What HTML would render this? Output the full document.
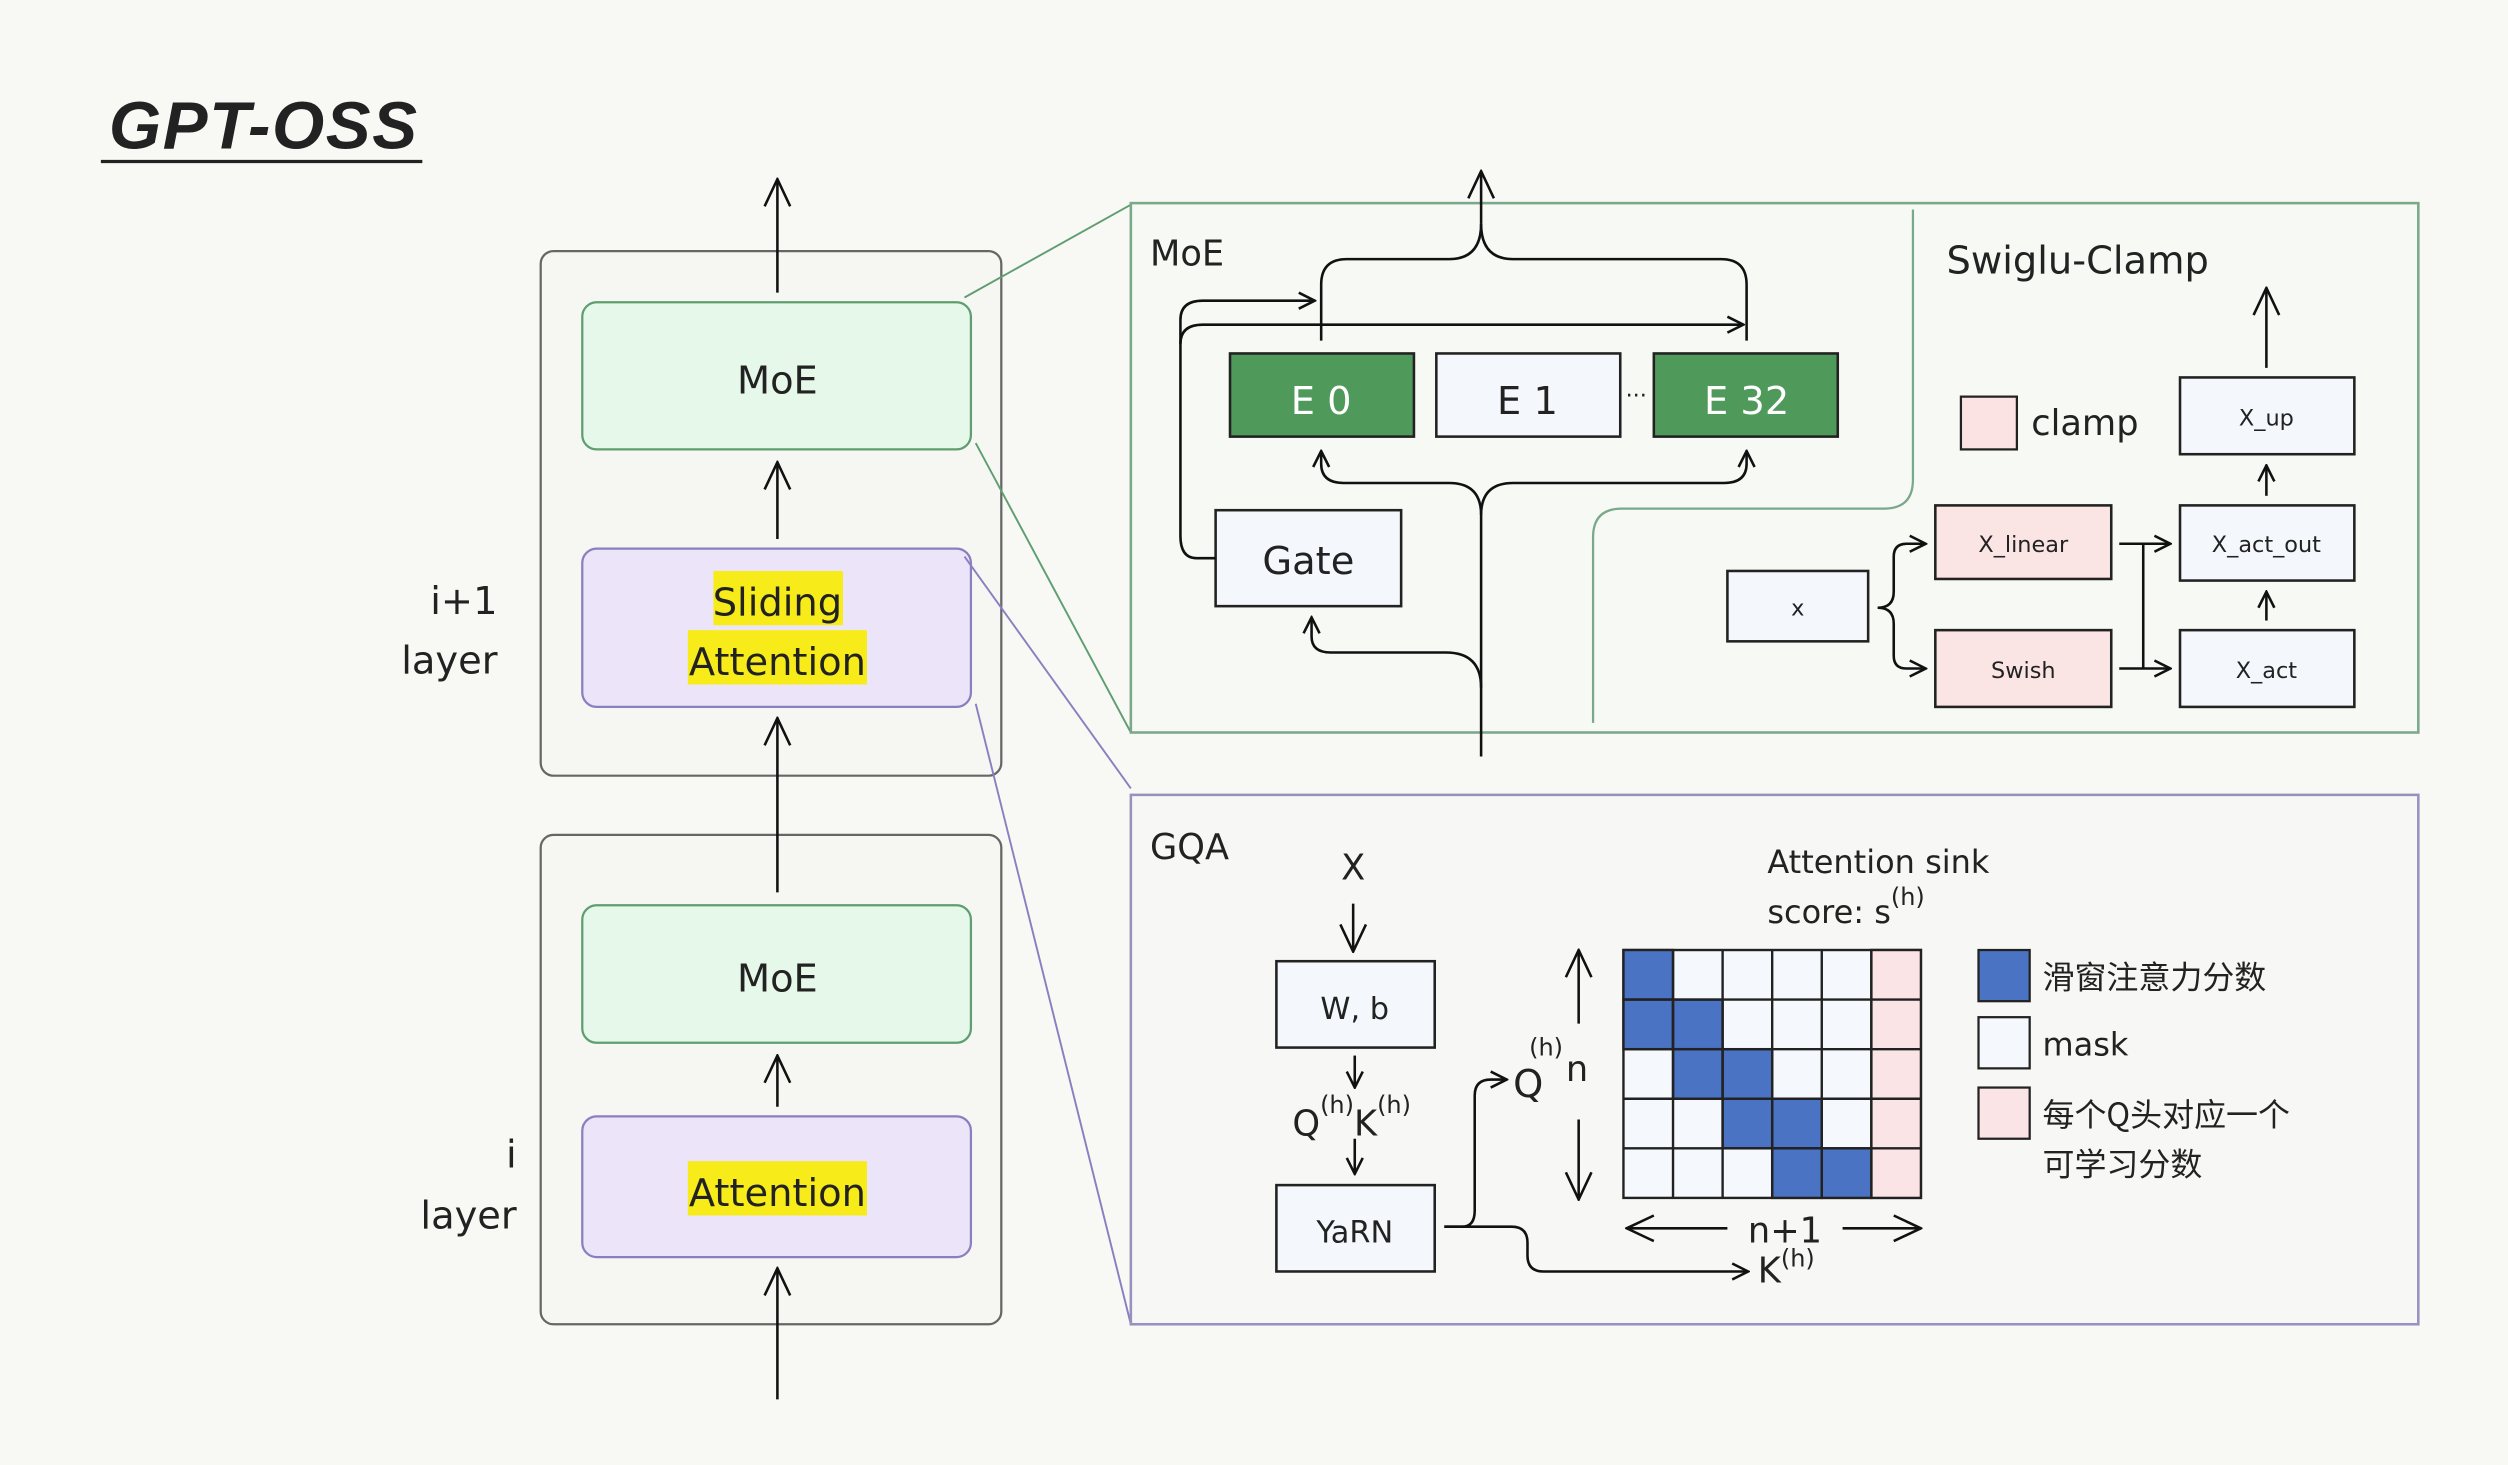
<!DOCTYPE html>
<html><head><meta charset="utf-8">
<style>
html,body{margin:0;padding:0;background:#f8f9f5;}
svg{display:block;}
text{font-family:"DejaVu Sans","Liberation Sans","Noto Sans CJK SC",sans-serif;fill:#222;}
</style></head><body>
<svg width="2508" height="1465" viewBox="0 0 1568 916" xmlns="http://www.w3.org/2000/svg">
<defs>
<marker id="a" viewBox="0 0 12 12" refX="11" refY="6" markerWidth="12" markerHeight="12" markerUnits="userSpaceOnUse" orient="auto">
<path d="M1,1 L11,6 L1,11" fill="none" stroke="#111" stroke-width="1.6"/></marker>
<marker id="b" viewBox="0 0 20 20" refX="19" refY="10" markerWidth="20" markerHeight="20" markerUnits="userSpaceOnUse" orient="auto">
<path d="M2,2 L19,10 L2,18" fill="none" stroke="#111" stroke-width="1.6"/></marker>
</defs>
<rect width="1568" height="916" fill="#f8f9f5"/>
<text x="68" y="93" font-size="42" font-weight="bold" font-style="italic" letter-spacing="1" style="font-family:'Liberation Sans',sans-serif">GPT-OSS</text>
<line x1="63" y1="101" x2="264" y2="101" stroke="#222" stroke-width="2"/>

<!-- layer stacks -->
<rect x="338" y="157" width="288" height="328" rx="8" fill="#f6f6f3" stroke="#666" stroke-width="1.4"/>
<rect x="338" y="522" width="288" height="306" rx="8" fill="#f6f6f3" stroke="#666" stroke-width="1.4"/>
<rect x="364" y="189" width="243" height="92" rx="9" fill="#e5f8e9" stroke="#5f9e70" stroke-width="1.4"/>
<rect x="364" y="343" width="243" height="99" rx="9" fill="#ece5f9" stroke="#8a7fbf" stroke-width="1.4"/>
<rect x="364" y="566" width="243" height="86" rx="9" fill="#e5f8e9" stroke="#5f9e70" stroke-width="1.4"/>
<rect x="364" y="698" width="243" height="88" rx="9" fill="#ece5f9" stroke="#8a7fbf" stroke-width="1.4"/>
<text x="486" y="246" font-size="24" text-anchor="middle">MoE</text>
<rect x="446" y="357" width="81" height="34" fill="#f7ec1a"/>
<rect x="430" y="394" width="112" height="34" fill="#f7ec1a"/>
<text x="486" y="385" font-size="24" text-anchor="middle">Sliding</text>
<text x="486" y="422" font-size="24" text-anchor="middle">Attention</text>
<text x="486" y="620" font-size="24" text-anchor="middle">MoE</text>
<rect x="430" y="726" width="112" height="34" fill="#f7ec1a"/>
<text x="486" y="754" font-size="24" text-anchor="middle">Attention</text>
<g stroke="#111" stroke-width="1.6" marker-end="url(#b)">
<line x1="486" y1="183" x2="486" y2="112"/>
<line x1="486" y1="337" x2="486" y2="289"/>
<line x1="486" y1="558" x2="486" y2="449"/>
<line x1="486" y1="692" x2="486" y2="660"/>
<line x1="486" y1="875" x2="486" y2="793"/>
</g>
<text x="311" y="384" font-size="24" text-anchor="end">i+1</text>
<text x="311" y="421" font-size="24" text-anchor="end">layer</text>
<text x="323" y="730" font-size="24" text-anchor="end">i</text>
<text x="323" y="768" font-size="24" text-anchor="end">layer</text>

<!-- zoom lines -->
<line x1="603" y1="186" x2="707" y2="128" stroke="#5f9e70" stroke-width="1.2"/>
<line x1="610" y1="277" x2="707" y2="458" stroke="#5f9e70" stroke-width="1.2"/>
<line x1="603" y1="348" x2="707" y2="493" stroke="#8a7fbf" stroke-width="1.2"/>
<line x1="610" y1="440" x2="707" y2="828" stroke="#8a7fbf" stroke-width="1.2"/>

<!-- MoE panel -->
<rect x="707" y="127" width="805" height="331" fill="#f7f9f4" stroke="#7aa88a" stroke-width="1.6"/>
<path d="M1196,131 V300 Q1196,318 1178,318 H1014 Q996,318 996,336 V452" fill="none" stroke="#7aa88a" stroke-width="1.4"/>
<text x="719" y="166" font-size="22">MoE</text>
<text x="1217" y="171" font-size="24">Swiglu-Clamp</text>
<rect x="769" y="221" width="115" height="52" fill="#4f9a5b" stroke="#222" stroke-width="1.6"/>
<rect x="898" y="221" width="115" height="52" fill="#f4f7fb" stroke="#222" stroke-width="1.6"/>
<rect x="1034" y="221" width="115" height="52" fill="#4f9a5b" stroke="#222" stroke-width="1.6"/>
<text x="826" y="259" font-size="24" text-anchor="middle" style="fill:#fff">E 0</text>
<text x="955" y="259" font-size="24" text-anchor="middle">E 1</text>
<text x="1092" y="259" font-size="24" text-anchor="middle" style="fill:#fff">E 32</text>
<text x="1023" y="252" font-size="14" text-anchor="middle">···</text>
<rect x="760" y="319" width="116" height="60" fill="#f4f7fb" stroke="#222" stroke-width="1.6"/>
<text x="818" y="359" font-size="24" text-anchor="middle">Gate</text>
<g fill="none" stroke="#111" stroke-width="1.6">
<path d="M826,213 V178 Q826,162 842,162 H906 Q926,162 926,140"/>
<path d="M1092,213 V178 Q1092,162 1076,162 H946 Q926,162 926,140"/>
<path d="M926,140 V107" marker-end="url(#b)"/>
<path d="M760,349 H748 Q738,349 738,335 V200 Q738,188 752,188 H822" marker-end="url(#a)"/>
<path d="M738,215 Q738,203 752,203 H1090" marker-end="url(#a)"/>
<path d="M926,473 V322 Q926,302 906,302 H840 Q826,302 826,290 V282" marker-end="url(#a)"/>
<path d="M926,322 Q926,302 946,302 H1078 Q1092,302 1092,290 V282" marker-end="url(#a)"/>
<path d="M926,430 Q926,408 904,408 H832 Q820,408 820,398 V386" marker-end="url(#a)"/>
</g>
<!-- swiglu -->
<rect x="1226" y="248" width="35" height="33" fill="#fbe3e3" stroke="#222" stroke-width="1.4"/>
<text x="1270" y="272" font-size="22">clamp</text>
<g stroke="#222" stroke-width="1.6">
<rect x="1363" y="236" width="109" height="48" fill="#f4f7fb"/>
<rect x="1363" y="316" width="109" height="47" fill="#f4f7fb"/>
<rect x="1363" y="394" width="109" height="48" fill="#f4f7fb"/>
<rect x="1210" y="316" width="110" height="46" fill="#fbe4e4"/>
<rect x="1210" y="394" width="110" height="48" fill="#fbe4e4"/>
<rect x="1080" y="357" width="88" height="44" fill="#f4f7fb"/>
</g>
<text x="1417" y="266" font-size="14" text-anchor="middle">X_up</text>
<text x="1417" y="345" font-size="14" text-anchor="middle">X_act_out</text>
<text x="1417" y="424" font-size="14" text-anchor="middle">X_act</text>
<text x="1265" y="345" font-size="14" text-anchor="middle">X_linear</text>
<text x="1265" y="424" font-size="14" text-anchor="middle">Swish</text>
<text x="1124" y="385" font-size="14" text-anchor="middle">x</text>
<g fill="none" stroke="#111" stroke-width="1.6">
<line x1="1417" y1="230" x2="1417" y2="180" marker-end="url(#b)"/>
<line x1="1417" y1="310" x2="1417" y2="291" marker-end="url(#a)"/>
<line x1="1417" y1="388" x2="1417" y2="370" marker-end="url(#a)"/>
<path d="M1174,380 Q1184,380 1184,370 V348 Q1184,340 1192,340 H1204" marker-end="url(#a)"/>
<path d="M1174,380 Q1184,380 1184,390 V410 Q1184,418 1192,418 H1204" marker-end="url(#a)"/>
<line x1="1325" y1="340" x2="1357" y2="340" marker-end="url(#a)"/>
<line x1="1325" y1="418" x2="1357" y2="418" marker-end="url(#a)"/>
<line x1="1340" y1="340" x2="1340" y2="418"/>
</g>

<!-- GQA panel -->
<rect x="707" y="497" width="805" height="331" fill="#f7f8f6" stroke="#9a90c0" stroke-width="1.6"/>
<text x="719" y="537" font-size="22">GQA</text>
<text x="846" y="550" font-size="22" text-anchor="middle">X</text>
<rect x="798" y="601" width="99" height="54" fill="#f4f7fb" stroke="#222" stroke-width="1.6"/>
<text x="847" y="637" font-size="19" text-anchor="middle">W, b</text>
<rect x="798" y="741" width="99" height="54" fill="#f4f7fb" stroke="#222" stroke-width="1.6"/>
<text x="847" y="777" font-size="19" text-anchor="middle">YaRN</text>
<text x="808" y="710" font-size="22">Q<tspan font-size="15" dy="-14">(h)</tspan><tspan font-size="22" dy="14">K</tspan><tspan font-size="15" dy="-14">(h)</tspan></text>
<g fill="none" stroke="#111" stroke-width="1.6">
<line x1="846" y1="565" x2="846" y2="595" marker-end="url(#b)"/>
<line x1="847" y1="660" x2="847" y2="680" marker-end="url(#a)"/>
<line x1="847" y1="712" x2="847" y2="734" marker-end="url(#a)"/>
<path d="M903,767 H914 Q922,767 922,757 V685 Q922,675 932,675 H942" marker-end="url(#a)"/>
<path d="M903,767 H945 Q955,767 955,777 V785 Q955,795 965,795 H1093" marker-end="url(#a)"/>
<line x1="987" y1="640" x2="987" y2="594" marker-end="url(#b)"/>
<line x1="987" y1="700" x2="987" y2="750" marker-end="url(#b)"/>
<line x1="1080" y1="768" x2="1017" y2="768" marker-end="url(#b)"/>
<line x1="1152" y1="768" x2="1201" y2="768" marker-end="url(#b)"/>
</g>
<text x="946" y="686" font-size="24">Q</text>
<text x="956" y="660" font-size="15">(h)</text>
<text x="979" y="676" font-size="22">n</text>
<text x="1116" y="777" font-size="22" text-anchor="middle">n+1</text>
<text x="1099" y="802" font-size="22">K<tspan font-size="15" dy="-10">(h)</tspan></text>
<text x="1105" y="546" font-size="20">Attention sink</text>
<text x="1105" y="577" font-size="20">score: s<tspan font-size="15" dy="-11">(h)</tspan></text>
<!-- grid -->
<g stroke="#222" stroke-width="1.5">
<rect x="1015" y="594" width="186" height="155" fill="#f5f8fc"/>
<rect x="1170" y="594" width="31" height="155" fill="#fbe4e6"/>
<g fill="#4a73c4">
<rect x="1015" y="594" width="31" height="31"/>
<rect x="1015" y="625" width="31" height="31"/><rect x="1046" y="625" width="31" height="31"/>
<rect x="1046" y="656" width="31" height="31"/><rect x="1077" y="656" width="31" height="31"/>
<rect x="1077" y="687" width="31" height="31"/><rect x="1108" y="687" width="31" height="31"/>
<rect x="1108" y="718" width="31" height="31"/><rect x="1139" y="718" width="31" height="31"/>
</g>
<g fill="none">
<line x1="1046" y1="594" x2="1046" y2="749"/><line x1="1077" y1="594" x2="1077" y2="749"/>
<line x1="1108" y1="594" x2="1108" y2="749"/><line x1="1139" y1="594" x2="1139" y2="749"/>
<line x1="1170" y1="594" x2="1170" y2="749"/>
<line x1="1015" y1="625" x2="1201" y2="625"/><line x1="1015" y1="656" x2="1201" y2="656"/>
<line x1="1015" y1="687" x2="1201" y2="687"/><line x1="1015" y1="718" x2="1201" y2="718"/>
</g>
</g>
<rect x="1237" y="594" width="32" height="32" fill="#4a73c4" stroke="#222" stroke-width="1.4"/>
<rect x="1237" y="636" width="32" height="32" fill="#f5f8fc" stroke="#222" stroke-width="1.4"/>
<rect x="1237" y="680" width="32" height="32" fill="#fbe4e6" stroke="#222" stroke-width="1.4"/>
<text x="1277" y="618" font-size="20" style="font-family:'Noto Sans CJK SC',sans-serif">滑窗注意力分数</text>
<text x="1277" y="660" font-size="20">mask</text>
<text x="1277" y="704" font-size="20" style="font-family:'Noto Sans CJK SC',sans-serif">每个Q头对应一个</text>
<text x="1277" y="735" font-size="20" style="font-family:'Noto Sans CJK SC',sans-serif">可学习分数</text>
</svg>
</body></html>
